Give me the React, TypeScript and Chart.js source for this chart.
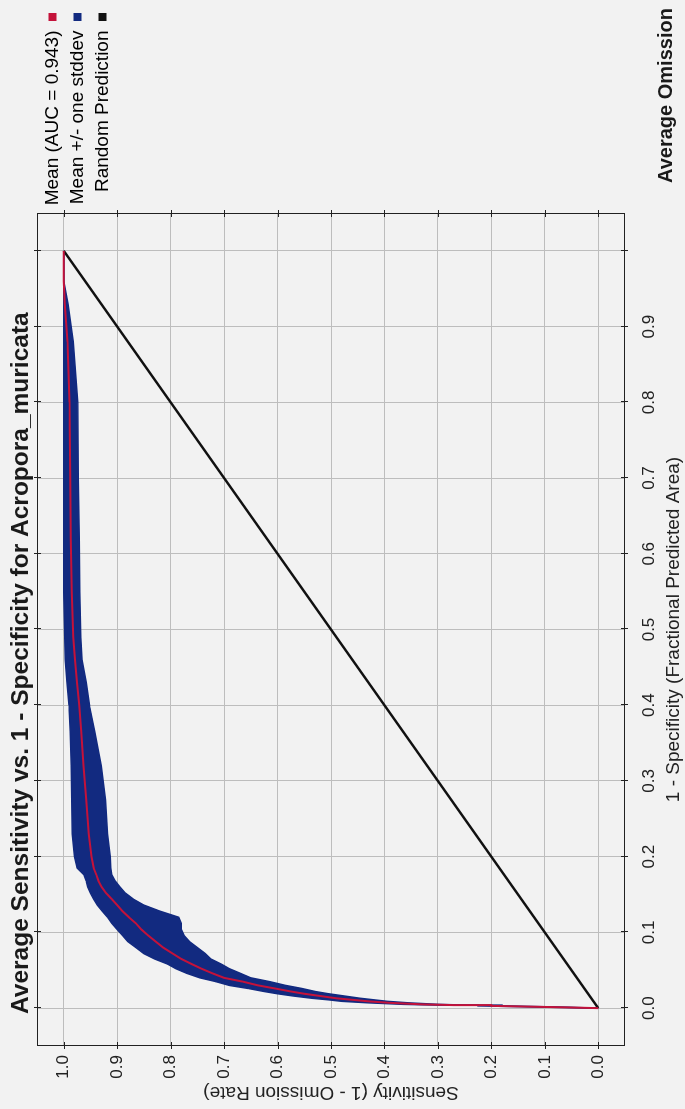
import React, { useEffect, useRef } from "react";
import { Chart, registerables } from "chart.js";

Chart.register(...registerables);

// ---- data ----
const fprValues = [
  0.0, 0.001, 0.002, 0.003, 0.004, 0.005, 0.007, 0.009, 0.011, 0.013, 0.016, 0.019, 0.022, 0.026,
  0.03, 0.035, 0.04, 0.046, 0.052, 0.058, 0.065, 0.072, 0.08, 0.088, 0.096, 0.104, 0.112, 0.12,
  0.128, 0.136, 0.144, 0.152, 0.16, 0.168, 0.176, 0.185, 0.2, 0.23, 0.275, 0.32, 0.365, 0.4,
  0.43, 0.46, 0.49, 0.55, 0.62, 0.7, 0.8, 0.88, 0.93, 0.96, 1.0,
];
const meanSensitivity = [
  0.0, 0.06, 0.13, 0.2, 0.27, 0.33, 0.39, 0.43, 0.46, 0.49, 0.52, 0.55, 0.575, 0.605,
  0.636, 0.665, 0.7, 0.722, 0.742, 0.76, 0.78, 0.796, 0.814, 0.828, 0.842, 0.855, 0.865, 0.878,
  0.89, 0.9, 0.91, 0.921, 0.929, 0.935, 0.939, 0.944, 0.948, 0.953, 0.958, 0.963, 0.967, 0.971,
  0.975, 0.979, 0.982, 0.985, 0.987, 0.988, 0.989, 0.993, 0.998, 1.0, 1.0,
];
const lowerSensitivity = [
  0.0, 0.05, 0.11, 0.18, 0.245, 0.3, 0.355, 0.395, 0.42, 0.445, 0.475, 0.505, 0.53, 0.555,
  0.585, 0.615, 0.65, 0.67, 0.69, 0.705, 0.725, 0.735, 0.75, 0.765, 0.775, 0.78, 0.78, 0.785,
  0.82, 0.85, 0.87, 0.885, 0.895, 0.904, 0.91, 0.912, 0.913, 0.918, 0.922, 0.93, 0.942, 0.952,
  0.958, 0.966, 0.968, 0.97, 0.971, 0.973, 0.974, 0.982, 0.992, 1.0, 1.0,
];
const upperSensitivity = [
  0.0, 0.075, 0.15, 0.225, 0.3, 0.365, 0.43, 0.48, 0.505, 0.535, 0.57, 0.6, 0.625, 0.655,
  0.69, 0.715, 0.745, 0.77, 0.79, 0.805, 0.83, 0.85, 0.865, 0.88, 0.89, 0.9, 0.91, 0.918,
  0.928, 0.937, 0.944, 0.95, 0.955, 0.958, 0.962, 0.975, 0.98, 0.984, 0.985, 0.986, 0.988, 0.99,
  0.994, 0.997, 0.998, 1.0, 1.0, 1.0, 1.0, 1.0, 1.0, 1.0, 1.0,
];
const randomX = [0, 1];
const randomY = [0, 1];

const xTickValues = [0, 0.1, 0.2, 0.3, 0.4, 0.5, 0.6, 0.7, 0.8, 0.9, 1.0];
const xTickLabels = ["0.0", "0.1", "0.2", "0.3", "0.4", "0.5", "0.6", "0.7", "0.8", "0.9", ""];
const yTickValues = [0, 0.1, 0.2, 0.3, 0.4, 0.5, 0.6, 0.7, 0.8, 0.9, 1.0];
const yTickLabels = ["0.0", "0.1", "0.2", "0.3", "0.4", "0.5", "0.6", "0.7", "0.8", "0.9", "1.0"];

const legendLabels = ["Mean (AUC = 0.943)", "Mean +/- one stddev", "Random Prediction"];
const chartTitle = "Average Sensitivity vs. 1 - Specificity for Acropora_muricata";
const nextChartTitle = "Average Omission";
const xAxisTitle = "1 - Specificity (Fractional Predicted Area)";
const yAxisTitle = "Sensitivity (1 - Omission Rate)";

// ---- styles ----
const FONT = "'Liberation Sans', Arial, sans-serif";
const RED = "#c4123a";
const NAVY = "#122a80";
const BLACK = "#111111";
const BG = "#f2f2f2";
const GRID = "#bdbdbd";
const W = 1109;
const H = 685;

const decorPlugin = {
  id: "decor",
  beforeDraw(chart: any) {
    const { ctx } = chart;
    ctx.save();
    ctx.fillStyle = BG;
    ctx.fillRect(0, 0, chart.width, chart.height);
    ctx.restore();
  },
  afterDraw(chart: any) {
    const { ctx, chartArea: a, scales } = chart;
    const xs = scales.x;
    const ys = scales.y;
    ctx.save();
    ctx.strokeStyle = "#222";
    ctx.lineWidth = 1;
    ctx.strokeRect(Math.round(a.left) + 0.5, Math.round(a.top) + 0.5, Math.round(a.width) - 1, Math.round(a.height) - 1);
    ctx.beginPath();
    xTickValues.forEach((v) => {
      const px = Math.round(xs.getPixelForValue(v)) + 0.5;
      ctx.moveTo(px, a.bottom - 4);
      ctx.lineTo(px, a.bottom + 3);
      ctx.moveTo(px, a.top - 3);
      ctx.lineTo(px, a.top + 4);
    });
    yTickValues.forEach((v) => {
      const py = Math.round(ys.getPixelForValue(v)) + 0.5;
      ctx.moveTo(a.left - 3, py);
      ctx.lineTo(a.left + 4, py);
      ctx.moveTo(a.right - 4, py);
      ctx.lineTo(a.right + 3, py);
    });
    ctx.stroke();

    ctx.fillStyle = "#1a1a1a";
    ctx.textBaseline = "middle";
    ctx.textAlign = "left";
    ctx.font = `bold 24.5px ${FONT}`;
    ctx.fillText(chartTitle, 95, 21);
    ctx.font = `bold 20px ${FONT}`;
    ctx.fillText(nextChartTitle, 926, 666);
    ctx.restore();
  },
};

function App() {
  const canvasRef = useRef<HTMLCanvasElement | null>(null);

  useEffect(() => {
    if (!canvasRef.current) return;
    const toPts = (xs: number[], ys: number[]) => xs.map((x, i) => ({ x, y: ys[i] }));

    const chart = new Chart(canvasRef.current, {
      type: "line",
      data: {
        datasets: [
          {
            label: legendLabels[0],
            data: toPts(fprValues, meanSensitivity),
            borderColor: RED,
            backgroundColor: RED,
            borderWidth: 2,
            pointRadius: 0,
            fill: false,
            tension: 0,
          },
          {
            label: legendLabels[2],
            data: toPts(randomX, randomY),
            borderColor: BLACK,
            backgroundColor: BLACK,
            borderWidth: 2.5,
            pointRadius: 0,
            fill: false,
          },
          {
            label: legendLabels[1],
            data: toPts(fprValues, upperSensitivity),
            borderColor: NAVY,
            backgroundColor: NAVY,
            borderWidth: 1.5,
            pointRadius: 0,
            fill: "+1",
          },
          {
            label: "lower",
            data: toPts(fprValues, lowerSensitivity),
            borderColor: NAVY,
            backgroundColor: NAVY,
            borderWidth: 1.5,
            pointRadius: 0,
            fill: false,
          },
        ],
      },
      options: {
        animation: false,
        responsive: false,
        devicePixelRatio: 1,
        parsing: true,
        layout: { padding: { top: 37, left: 0, right: 7, bottom: 0 } },
        plugins: {
          title: { display: false },
          tooltip: { enabled: false },
          legend: {
            display: true,
            position: "right",
            align: "start",
            fullSize: false,
            rtl: true,
            maxWidth: 206,
            labels: {
              boxWidth: 8,
              boxHeight: 8,
              padding: 6,
              color: "#222",
              textAlign: "left",
              font: { family: FONT, size: 19 },
              generateLabels: () => [
                { text: legendLabels[0], fillStyle: RED, strokeStyle: RED, lineWidth: 0, hidden: false, datasetIndex: 0 },
                { text: legendLabels[1], fillStyle: NAVY, strokeStyle: NAVY, lineWidth: 0, hidden: false, datasetIndex: 2 },
                { text: legendLabels[2], fillStyle: BLACK, strokeStyle: BLACK, lineWidth: 0, hidden: false, datasetIndex: 1 },
              ],
            },
          },
        },
        scales: {
          x: {
            type: "linear",
            min: -0.05,
            max: 1.05,
            afterBuildTicks: (axis: any) => {
              axis.ticks = xTickValues.map((value) => ({ value }));
            },
            afterFit: (axis: any) => {
              axis.height = 60;
            },
            border: { display: false },
            grid: { color: GRID, lineWidth: 1, drawTicks: false },
            ticks: {
              autoSkip: false,
              maxRotation: 0,
              padding: 14,
              color: "#222",
              font: { family: FONT, size: 17 },
              callback: (_v: any, i: number) => xTickLabels[i] ?? "",
            },
            title: {
              display: true,
              text: xAxisTitle,
              color: "#222",
              font: { family: FONT, size: 19 },
              padding: { top: 0, bottom: 0 },
            },
          },
          y: {
            type: "linear",
            min: -0.05,
            max: 1.05,
            afterBuildTicks: (axis: any) => {
              axis.ticks = yTickValues.map((value) => ({ value }));
            },
            afterFit: (axis: any) => {
              axis.width = 63;
            },
            border: { display: false },
            grid: { color: GRID, lineWidth: 1, drawTicks: false },
            ticks: {
              autoSkip: false,
              padding: 9,
              color: "#222",
              font: { family: FONT, size: 17 },
              callback: (_v: any, i: number) => yTickLabels[i] ?? "",
            },
            title: {
              display: true,
              text: yAxisTitle,
              color: "#222",
              font: { family: FONT, size: 19 },
              padding: { top: 5, bottom: 0 },
            },
          },
        },
      },
      plugins: [decorPlugin],
    } as any);

    return () => chart.destroy();
  }, []);

  return (
    <div
      style={{
        position: "absolute",
        left: 0,
        top: 0,
        width: 685,
        height: 1109,
        overflow: "hidden",
        background: BG,
      }}
    >
      <div
        style={{
          position: "absolute",
          left: 0,
          top: 0,
          width: W,
          height: H,
          transformOrigin: "0 0",
          transform: `translate(0px, ${W}px) rotate(-90deg)`,
        }}
      >
        <canvas ref={canvasRef} width={W} height={H} style={{ display: "block", width: W, height: H }} />
      </div>
    </div>
  );
}

export default App;
